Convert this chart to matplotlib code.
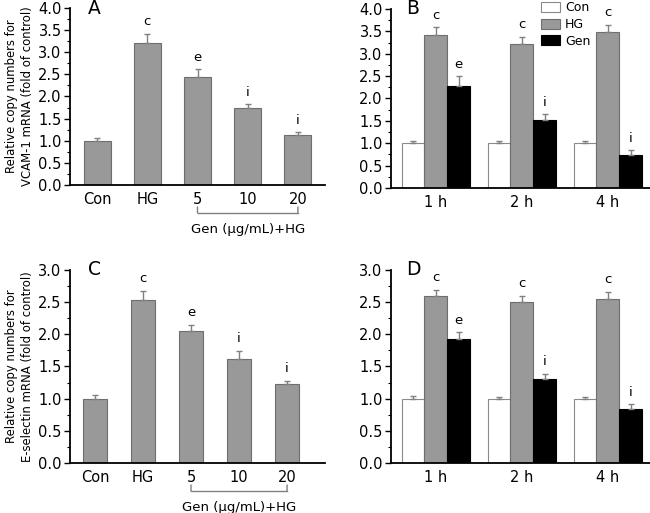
import numpy as np
import matplotlib
matplotlib.use('Agg')
import matplotlib.pyplot as plt
from matplotlib.ticker import MultipleLocator
import matplotlib.transforms as mtransforms

plt.rcParams['font.family'] = ['DejaVu Sans']

# data
dose_labels = ['Con', 'HG', '5', '10', '20']
time_labels = ['1 h', '2 h', '4 h']

vcam_dose = [1.00, 3.22, 2.44, 1.73, 1.12]
vcam_dose_err = [0.07, 0.20, 0.18, 0.10, 0.08]
vcam_dose_sig = ['', 'c', 'e', 'i', 'i']

vcam_con = [1.00, 1.00, 1.00]
vcam_con_err = [0.06, 0.06, 0.05]
vcam_hg = [3.42, 3.21, 3.48]
vcam_hg_err = [0.17, 0.17, 0.17]
vcam_gen = [2.27, 1.52, 0.73]
vcam_gen_err = [0.23, 0.13, 0.12]
vcam_hg_sig = ['c', 'c', 'c']
vcam_gen_sig = ['e', 'i', 'i']

esel_dose = [1.00, 2.54, 2.05, 1.61, 1.22]
esel_dose_err = [0.05, 0.13, 0.10, 0.13, 0.06]
esel_dose_sig = ['', 'c', 'e', 'i', 'i']

esel_con = [1.00, 1.00, 1.00]
esel_con_err = [0.04, 0.02, 0.02]
esel_hg = [2.60, 2.50, 2.55]
esel_hg_err = [0.09, 0.10, 0.11]
esel_gen = [1.93, 1.31, 0.84]
esel_gen_err = [0.10, 0.08, 0.07]
esel_hg_sig = ['c', 'c', 'c']
esel_gen_sig = ['e', 'i', 'i']

gray = '#999999'
edge = '#6e6e6e'
errc = '#808080'


def style_axis(ax, ymax):
    ax.spines['top'].set_visible(False)
    ax.spines['right'].set_visible(False)
    ax.spines['left'].set_linewidth(1.3)
    ax.spines['bottom'].set_linewidth(1.3)
    ax.set_ylim(0, ymax)
    ax.yaxis.set_major_locator(MultipleLocator(0.5))
    ax.yaxis.set_minor_locator(MultipleLocator(0.25))
    ax.tick_params(axis='y', which='major', length=4, width=1, labelsize=10.5, pad=2)
    ax.tick_params(axis='y', which='minor', length=2.5, width=0.8)
    ax.tick_params(axis='x', length=0, labelsize=10.5, pad=5)
    ax.yaxis.set_major_formatter(matplotlib.ticker.FormatStrFormatter('%.1f'))


def dose_panel(ax, vals, errs, sig, ymax, ylabel, letter, xlim, w):
    x = np.arange(len(vals))
    ax.bar(x, vals, width=w, color=gray, edgecolor=edge, linewidth=0.8, zorder=2)
    ax.errorbar(x, vals, yerr=[np.zeros(len(errs)), errs], fmt='none',
                ecolor=errc, elinewidth=1, capsize=2.5, capthick=1, zorder=3)
    for xi, v, e, s in zip(x, vals, errs, sig):
        if s:
            ax.text(xi, v + e + ymax * 0.03, s, ha='center', va='bottom', fontsize=9.5)
    ax.set_xticks(x)
    ax.set_xticklabels(dose_labels)
    ax.set_xlim(*xlim)
    style_axis(ax, ymax)
    ax.set_ylabel(ylabel, fontsize=8.4, labelpad=3, linespacing=1.3)
    ax.text(0.07, 1.0, letter, transform=ax.transAxes, fontsize=13.5, va='center', ha='left')
    # bracket for Gen doses (offsets in pixels below the x axis)
    base = mtransforms.blended_transform_factory(ax.transData, ax.transAxes)
    tr_b = base + mtransforms.ScaledTranslation(0, -28 / 100, fig.dpi_scale_trans)
    tr_t = base + mtransforms.ScaledTranslation(0, -22 / 100, fig.dpi_scale_trans)
    tr_x = base + mtransforms.ScaledTranslation(0, -45 / 100, fig.dpi_scale_trans)
    ax.plot([2, 4], [0, 0], color=errc, lw=1, transform=tr_b, clip_on=False)
    for xb in (2, 4):
        ax.annotate('', xy=(xb, 0), xycoords=tr_b, xytext=(xb, 0), textcoords=tr_t,
                    arrowprops=dict(arrowstyle='-', color=errc, lw=1,
                                    shrinkA=0, shrinkB=0))
    ax.text(3, 0, 'Gen (μg/mL)+HG', transform=tr_x, ha='center', va='center', fontsize=9.5)


def time_panel(ax, con, con_e, hg, hg_e, gen, gen_e, hg_sig, gen_sig, ymax, letter, legend):
    x = np.arange(len(con))
    w = 0.265
    series = [(con, con_e, 'white', '#8a8a8a', 'Con', None),
              (hg, hg_e, gray, edge, 'HG', hg_sig),
              (gen, gen_e, 'black', 'black', 'Gen', gen_sig)]
    for k, (vals, errs, fc, ec, lab, sig) in enumerate(series):
        xs = x + (k - 1) * w
        ax.bar(xs, vals, width=w, color=fc, edgecolor=ec, linewidth=0.8, label=lab, zorder=2)
        ax.errorbar(xs, vals, yerr=[np.zeros(len(errs)), errs], fmt='none',
                    ecolor=errc, elinewidth=1, capsize=2, capthick=1, zorder=3)
        if sig:
            for xi, v, e, s in zip(xs, vals, errs, sig):
                ax.text(xi, v + e + ymax * 0.03, s, ha='center', va='bottom', fontsize=9.5)
    ax.set_xticks(x)
    ax.set_xticklabels(time_labels)
    ax.set_xlim(-0.52, 2.49)
    style_axis(ax, ymax)
    ax.text(0.06, 1.0, letter, transform=ax.transAxes, fontsize=13.5, va='center', ha='left')
    if legend:
        ax.legend(loc='upper left', bbox_to_anchor=(0.552, 1.085), frameon=False,
                  fontsize=9, handlelength=1.5, handleheight=0.85, handletextpad=0.4,
                  labelspacing=0.3, borderpad=0.1)


fig = plt.figure(figsize=(6.5, 5.13), dpi=100)
axA = fig.add_axes([0.1077, 0.6394, 0.3923, 0.345])
axB = fig.add_axes([0.6015, 0.6335, 0.3985, 0.349])
axC = fig.add_axes([0.1077, 0.0975, 0.3923, 0.3762])
axD = fig.add_axes([0.6015, 0.0975, 0.3985, 0.3762])

dose_panel(axA, vcam_dose, vcam_dose_err, vcam_dose_sig, 4.0,
           'Relative copy numbers for\nVCAM-1 mRNA (fold of control)', 'A',
           (-0.54, 4.54), 0.54)
time_panel(axB, vcam_con, vcam_con_err, vcam_hg, vcam_hg_err, vcam_gen, vcam_gen_err,
           vcam_hg_sig, vcam_gen_sig, 4.0, 'B', True)
dose_panel(axC, esel_dose, esel_dose_err, esel_dose_sig, 3.0,
           'Relative copy numbers for\nE-selectin mRNA (fold of control)', 'C',
           (-0.52, 4.79), 0.5)
time_panel(axD, esel_con, esel_con_err, esel_hg, esel_hg_err, esel_gen, esel_gen_err,
           esel_hg_sig, esel_gen_sig, 3.0, 'D', False)

fig.savefig('out.png', dpi=100)
